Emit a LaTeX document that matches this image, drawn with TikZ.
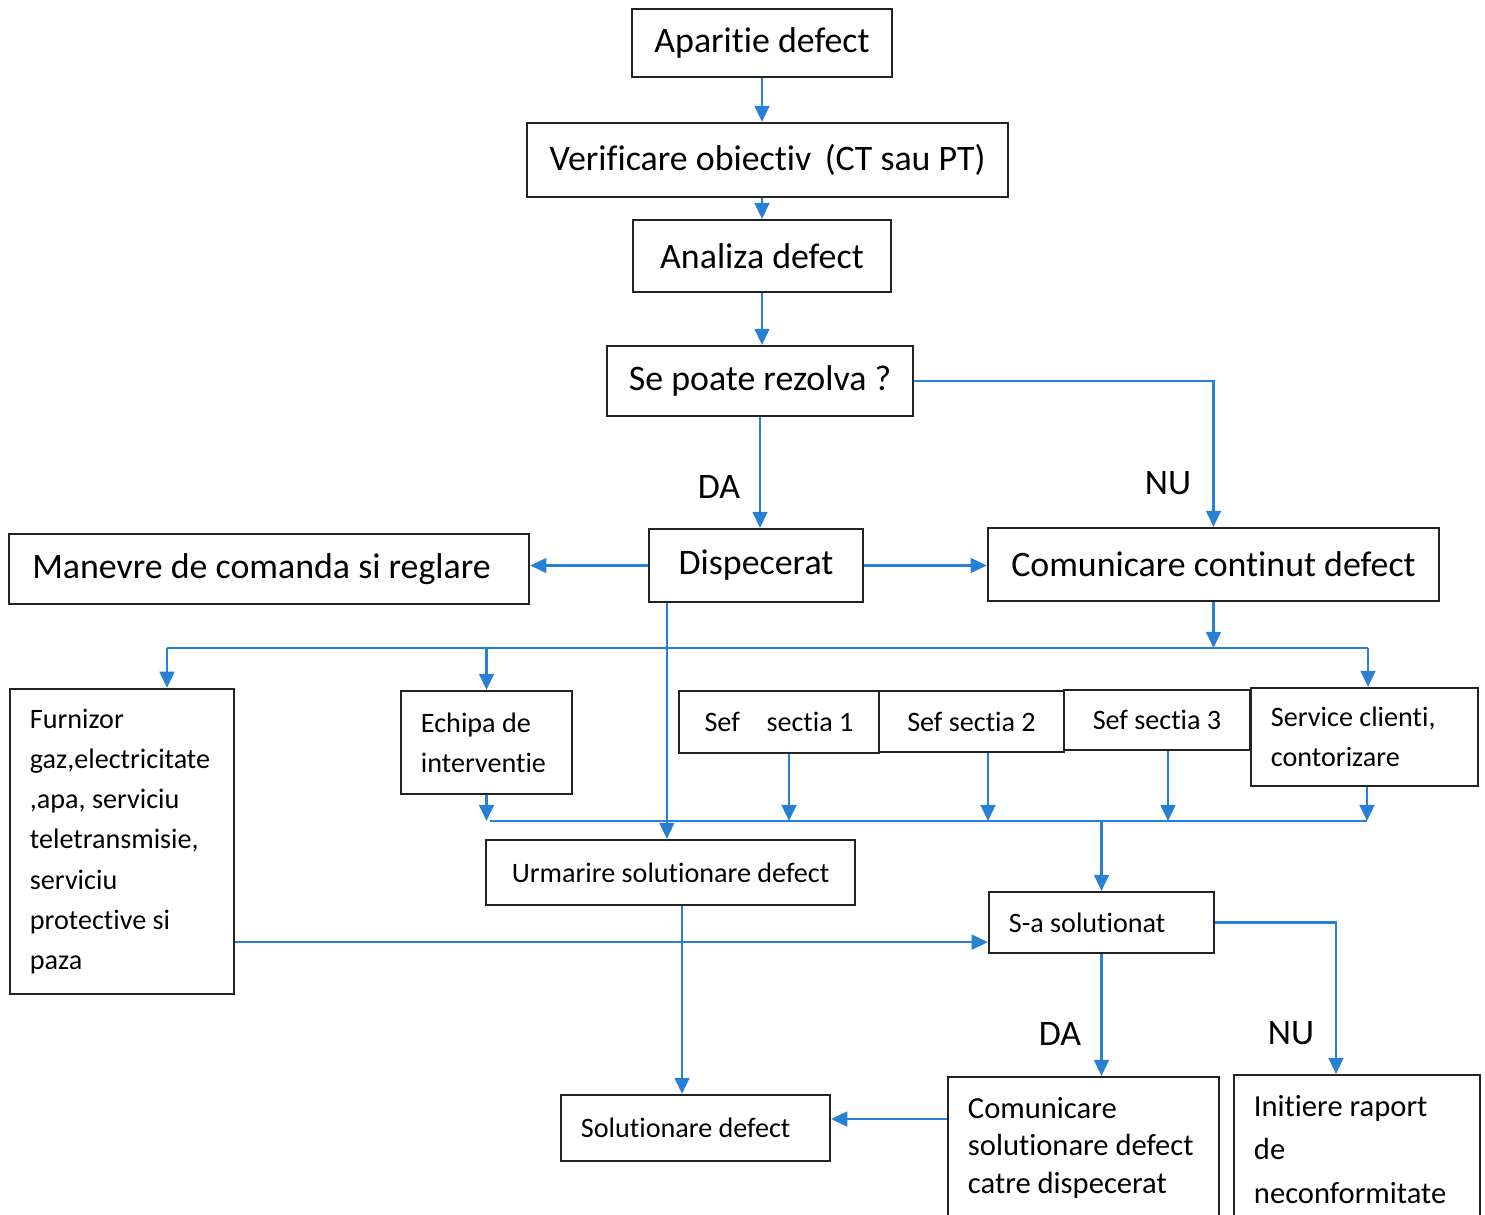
\documentclass[tikz,border=0pt]{standalone}
\usepackage{fontspec}
\setmainfont[Ligatures={NoCommon}]{Carlito}
\usetikzlibrary{arrows.meta}
\definecolor{flowblue}{RGB}{40,128,212}
\definecolor{boxline}{RGB}{35,35,35}
\newcommand\bigfont{\fontsize{10.2}{12.2}\selectfont}
\newcommand\smallfont{\fontsize{8}{11.4}\selectfont}
\newcommand\midfont{\fontsize{8.7}{10.7}\selectfont}
\newcommand\widefont{\fontsize{8.7}{12.4}\selectfont}

\begin{document}
\begin{tikzpicture}[x=0.01cm,y=-0.01cm,
  box/.style={draw=boxline,line width=0.6pt,rectangle,inner sep=0pt,font=\bigfont},
  sbox/.style={box,font=\smallfont},
  lbox/.style={draw=boxline,line width=0.6pt,rectangle,align=flush left,inner xsep=2mm,inner ysep=1mm,font=\smallfont},
  arr/.style={draw=flowblue,line width=0.7pt,-{Triangle[length=4.6pt,width=4.2pt]}},
  bus/.style={draw=flowblue,line width=0.7pt},
  lbl/.style={font=\bigfont}]
\useasboundingbox (0,0) rectangle (1485,1214);

\node[box,minimum width=26mm,minimum height=6.8mm] (apar) at (762,43) {Aparitie defect};
\node[box,minimum width=48.1mm,minimum height=7.4mm] (verif) at (767.5,160) {Verificare obiectiv\hspace{0.15em} (CT sau PT)};
\node[box,minimum width=25.8mm,minimum height=7.2mm] (anal) at (762,256) {Analiza defect};
\node[box,minimum width=30.6mm,minimum height=7mm] (rez) at (760,381) {Se poate rezolva ?};
\node[box,minimum width=21.4mm,minimum height=7.3mm] (disp) at (756,565.5) {Dispecerat};
\node[box,minimum width=52mm,minimum height=7mm] (manev) at (269,569) {\hspace*{-1.5mm}Manevre de comanda si reglare};
\node[box,minimum width=45.1mm,minimum height=7.3mm] (comcont) at (1213.5,564.5) {Comunicare continut defect};

\node[lbox,text width=18.4mm,minimum height=30.5mm] (furn) at (122,841.5) {Furnizor\\gaz,electricitate\\,apa, serviciu\\teletransmisie,\\serviciu\\protective si\\paza};
\node[lbox,text width=13.1mm,minimum height=10.3mm] (echipa) at (486.5,742.5) {Echipa de\\interventie};
\node[sbox,minimum width=20mm,minimum height=6.2mm] (sef1) at (779,722) {Sef\hspace{0.95em}sectia 1};
\node[sbox,minimum width=18.5mm,minimum height=6.1mm] (sef2) at (971.5,721.5) {Sef sectia 2};
\node[sbox,minimum width=18.6mm,minimum height=6mm] (sef3) at (1157,720) {Sef sectia 3};
\node[lbox,text width=18.7mm,minimum height=9.8mm] (serv) at (1364.5,737) {Service clienti,\\contorizare};

\node[sbox,minimum width=36.9mm,minimum height=6.5mm] (urm) at (670.5,872.5) {Urmarire solutionare defect};
\node[lbox,text width=18.5mm,minimum height=6.1mm] (solutionat) at (1101.5,922.5) {S-a solutionat};
\node[lbox,text width=22.9mm,minimum height=6.6mm] (soldef) at (695.5,1128) {Solutionare defect};
\node[lbox,font=\midfont,text width=23.1mm,inner ysep=2mm,anchor=north] (comsol) at (1083.5,1076) {Comunicare\\solutionare defect\\catre dispecerat};
\node[lbox,font=\widefont,text width=20.6mm,inner ysep=2mm,anchor=north] (init) at (1357,1074) {Initiere raport\\de\\neconformitate};

\node[lbl] (da1) at (719,487) {DA};
\node[lbl] (nu1) at (1168,483) {NU};
\node[lbl] (da2) at (1060,1034) {DA};
\node[lbl] (nu2) at (1291,1033) {NU};

\draw[arr] (apar) -- (apar.south |- verif.north);
\draw[arr] (verif.south -| anal) -- (anal);
\draw[arr] (anal) -- (anal |- rez.north);
\draw[arr] (rez) -- (rez |- disp.north);
\draw[arr] (rez.east) -| (comcont.north);
\draw[arr] (disp.west) -- (disp.west -| manev.east);
\draw[arr] (disp.east) -- (disp.east -| comcont.west);

% distributie
\coordinate (busL) at (167,648);
\coordinate (busR) at (1368,648);
\draw[bus] (busL) -- (busR);
\draw[arr] (comcont.south) -- (comcont.south |- busL);
\draw[arr] (busL) -- (busL |- furn.north);
\draw[arr] (echipa.north |- busL) -- (echipa.north);
\draw[arr] (busR) -- (busR |- serv.north);
\draw[arr] ([xshift=1.9mm]disp.south west) -- ([xshift=1.9mm]disp.south west |- urm.north);

% colectare
\coordinate (bus2L) at (490,821);
\coordinate (bus2R) at (1367,821);
\draw[bus] (bus2L) -- (bus2R);
\draw[arr] (echipa.south) -- (echipa.south |- bus2L);
\foreach \n/\dx in {sef1/1mm,sef2/1.65mm,sef3/1.1mm,serv/0.25mm}
  \draw[arr] ([xshift=\dx]\n.south) -- ([xshift=\dx]\n.south |- bus2L);
\draw[arr] (solutionat.north |- bus2L) -- (solutionat);

\coordinate (fs) at ([yshift=5.3mm]furn.south east);
\draw[arr] (fs) -- (fs -| solutionat.west);
\draw[arr] ([xshift=1.15mm]urm.south) -- ([xshift=1.15mm]urm.south |- soldef.north);
\draw[arr] (solutionat) -- (solutionat |- comsol.north);
\draw[arr] (solutionat.east) -| ([xshift=-2.1mm]init.north);
\draw[arr] ([yshift=0.9mm]soldef.east -| comsol.west) -- ([yshift=0.9mm]soldef.east);
\end{tikzpicture}
\end{document}
